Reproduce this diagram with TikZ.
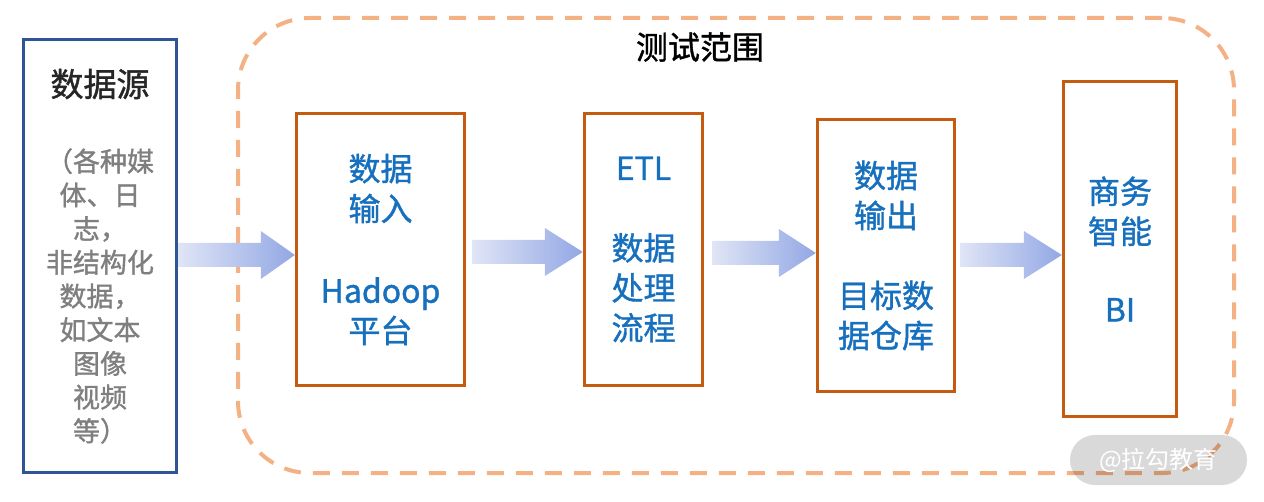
\documentclass[tikz,border=0pt]{standalone}
\usepackage{fontspec}
\setmainfont{Noto Sans CJK SC}
\newfontfamily\medfont{Noto Sans CJK SC}[FakeBold=1.2]
\usetikzlibrary{calc}
\definecolor{srcblue}{HTML}{2F5597}
\definecolor{boxorange}{HTML}{C55A11}
\definecolor{dashorange}{HTML}{F4B183}
\definecolor{txtblue}{HTML}{1670BE}
\definecolor{txtgray}{HTML}{7F7F7F}
\definecolor{arrL}{RGB}{224,229,246}
\definecolor{arrR}{RGB}{146,167,228}
\tikzset{
  stagebox/.style={draw=boxorange, line width=3.3pt, inner sep=0pt, align=center,
    text=txtblue, font=\medfont\fontsize{32}{40}\selectfont},
  srcbox/.style={draw=srcblue, line width=3.3pt, inner sep=0pt, align=center,
    minimum width=153pt, minimum height=433pt},
  scopebox/.style={draw=dashorange, line width=4pt, dash pattern=on 17pt off 12pt,
    rounded corners=72pt, minimum width=996pt, minimum height=455pt, inner sep=0pt},
  arrowfill/.style={left color=arrL, right color=arrR, draw=none}
}
% #1 from node, #2 to node, #3 y centre, #4 head length, #5 start offset
\newcommand\fatarrow[5]{%
  \path (#1.east |- 0,#3) coordinate (aS) (#2.west |- 0,#3) coordinate (aE);
  \shade[arrowfill] ($(aS)+(#5,-12)$) -- ($(aE)+(-#4,-12)$) -- ($(aE)+(-#4,-24)$) -- (aE)
     -- ($(aE)+(-#4,24)$) -- ($(aE)+(-#4,12)$) -- ($(aS)+(#5,12)$) -- cycle;}
\begin{document}
\begin{tikzpicture}[x=1pt,y=-1pt]
\useasboundingbox (0,0) rectangle (1264,502);
% test scope
\node[scopebox] (scope) at (736,245.5) {};
\node[font=\medfont\fontsize{32}{36}\selectfont] (scopelbl) at (700,47) {测试范围};
% source
\node[srcbox] (src) at (100,256) {};
\node[font=\medfont\fontsize{33}{36}\selectfont, text=black!85] (srctitle) at (100,84) {数据源};
\node[font=\medfont\fontsize{27}{33.7}\selectfont, text=txtgray, align=center] (srcdesc) at (100,296)
  {（各种媒\\体、日\\志，\\非结构化\\数据，\\如文本\\图像\\视频\\等）};
% stages
\node[stagebox, minimum width=168pt, minimum height=272pt] (b1) at (380.5,249.5)
  {数据\\输入\\[42pt]Hadoop\\平台};
\node[stagebox, minimum width=118pt, minimum height=272pt] (b2) at (643.5,249.5)
  {ETL\\[40pt]数据\\处理\\流程};
\node[stagebox, minimum width=137pt, minimum height=272pt] (b3) at (886,255.5)
  {数据\\输出\\[40pt]目标数\\据仓库};
\node[stagebox, minimum width=113pt, minimum height=335pt] (b4) at (1120,249)
  {商务\\智能\\[38pt]BI};
% arrows
\fatarrow{src}{b1}{255}{34}{0}
\fatarrow{b1}{b2}{252}{38}{6}
\fatarrow{b2}{b3}{253}{37}{8}
\fatarrow{b3}{b4}{255}{38}{4}
% watermark
\node[fill=black, fill opacity=0.15, rounded corners=25pt, minimum width=177pt,
  minimum height=50pt, inner sep=0pt] (wm) at (1158.5,460) {};
\node[text=white, font=\fontsize{24}{28}\selectfont] (wmtext) at (1158.5,460) {@拉勾教育};
\end{tikzpicture}
\end{document}
